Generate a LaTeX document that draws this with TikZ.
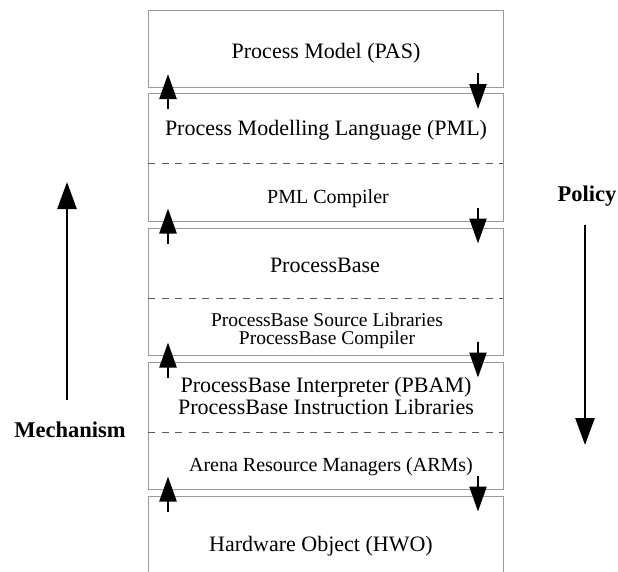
\documentclass[tikz,border=0pt]{standalone}
\usepackage{fontspec}
\setmainfont{Liberation Serif}
\usetikzlibrary{arrows.meta}
\begin{document}
\begin{tikzpicture}[x=1pt,y=-1pt,
  layer/.style={draw=gray!80, line width=0.7pt, minimum width=355pt, inner sep=0pt, anchor=north west},
  edge/.style={draw=gray!80, line width=0.7pt},
  sep/.style={draw=black!65, line width=0.6pt, dash pattern=on 7pt off 6.5pt},
  big/.style={font=\fontsize{22}{22}\selectfont, anchor=base, inner sep=0pt, align=center},
  small/.style={font=\fontsize{20}{19}\selectfont, anchor=base, inner sep=0pt, align=center},
  side/.style={font=\bfseries\fontsize{22.5}{24}\selectfont, anchor=base, inner sep=0pt},
  flow/.style={line width=2.4pt, -{Triangle[length=25pt,width=17pt]}},
  bigflow/.style={line width=2.6pt, -{Triangle[length=27pt,width=19pt]}}
]
\useasboundingbox (0,0) rectangle (618,571);

% layer boxes
\node[layer, minimum height=77pt]  (pas) at (148,10)  {};
\node[layer, minimum height=128pt] (pml) at (148,93)  {};
\node[layer, minimum height=127pt] (pb)  at (148,228) {};
\node[layer, minimum height=127pt] (pbi) at (148,362) {};
\node[layer, draw=none, minimum height=75pt] (hwo) at (148,496) {};
\draw[edge] (hwo.south west) -- (hwo.north west) -- (hwo.north east) -- (hwo.south east);

% dashed separators inside the layers
\draw[sep] (148,163) -- (503,163);
\draw[sep] (148,298) -- (503,298);
\draw[sep] (148,432) -- (503,432);

% layer texts
\node[big]   (tpas)  at (326,58)  {Process Model (PAS)};
\node[big]   (tpml)  at (326,135) {Process Modelling Language (PML)};
\node[small] (tpmlc) at (328,203) {PML Compiler};
\node[big]   (tpb)   at (325,272) {ProcessBase};
\node[small, font=\fontsize{19.5}{18.5}\selectfont, anchor=center] (tpbsl) at (327,331)
  {ProcessBase Source Libraries\\ProcessBase Compiler};
\node[big, font=\fontsize{22}{21.5}\selectfont, anchor=center] (tpbi) at (326,396)
  {ProcessBase Interpreter (PBAM)\\ProcessBase Instruction Libraries};
\node[small] (tarm)  at (331,471) {Arena Resource Managers (ARMs)};
\node[big]   (thwo)  at (321,551) {Hardware Object (HWO)};

% arrows crossing the gaps between layers
\foreach \c [count=\i] in {90,224.5,358.5,492.5}{
  \coordinate (u\i a) at (168,\c+19);
  \coordinate (u\i b) at (168,\c-16);
  \coordinate (d\i a) at (478,\c-17);
  \coordinate (d\i b) at (478,\c+19);
  \draw[flow] (u\i a) -- (u\i b);
  \draw[flow] (d\i a) -- (d\i b);
}

% side arrows
\coordinate (m0) at (67,400);
\coordinate (m1) at (67,182);
\draw[bigflow] (m0) -- (m1);
\node[side] (mech) at (70,437) {Mechanism};

\coordinate (p0) at (585,225);
\coordinate (p1) at (585,445);
\draw[bigflow] (p0) -- (p1);
\node[side] (pol) at (587,201) {Policy};
\end{tikzpicture}
\end{document}
